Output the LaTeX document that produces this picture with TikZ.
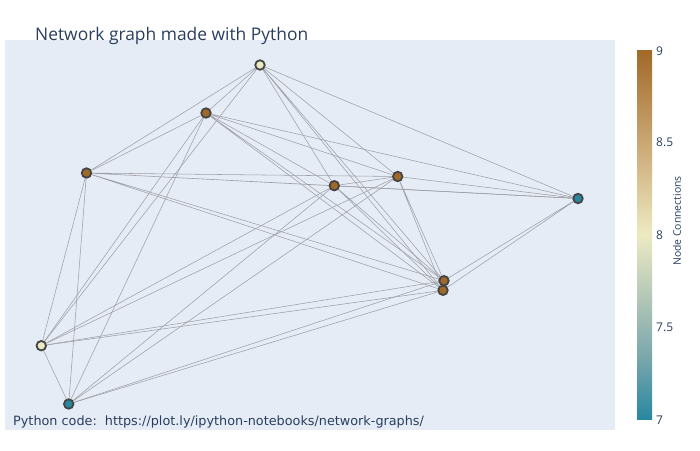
\documentclass[tikz,border=0pt]{standalone}
\usepackage{fontspec}
\setmainfont{Open Sans}
\newfontfamily\notefont{DejaVu Sans}
\usetikzlibrary{backgrounds}

\definecolor{plotbg}{HTML}{E5ECF6}
\definecolor{fontblue}{HTML}{2A3F5F}
\definecolor{edgegray}{RGB}{160,160,166}
\definecolor{rimgray}{HTML}{444444}
\definecolor{earthA}{RGB}{161,105,40}
\definecolor{earthB}{RGB}{189,146,90}
\definecolor{earthC}{RGB}{214,189,141}
\definecolor{earthD}{RGB}{237,234,194}
\definecolor{earthE}{RGB}{181,200,184}
\definecolor{earthF}{RGB}{121,167,172}
\definecolor{earthG}{RGB}{40,135,161}

\tikzset{
	netnode/.style={circle, draw=rimgray, line width=1.8pt, minimum size=9.5pt, inner sep=0pt},
	edge/.style={edgegray, line width=0.55pt},
	ticklabel/.style={anchor=west, inner sep=0pt, text=fontblue, font=\fontsize{12}{14}\selectfont}
}

\begin{document}
\begin{tikzpicture}[x=1pt,y=-1pt]
	\useasboundingbox (0,0) rectangle (700,450);

	% Nodes (coloured by number of connections)
	\node[netnode, fill=earthD] (a) at (260,65) {};
	\node[netnode, fill=earthA] (b) at (206,113) {};
	\node[netnode, fill=earthA] (c) at (86.5,173) {};
	\node[netnode, fill=earthA] (d) at (334.3,185.7) {};
	\node[netnode, fill=earthA] (e) at (397.7,176.5) {};
	\node[netnode, fill=earthG] (f) at (578,198.5) {};
	\node[netnode, fill=earthA] (g) at (444,280.7) {};
	\node[netnode, fill=earthA] (h) at (443,290.3) {};
	\node[netnode, fill=earthD] (i) at (41.3,345.7) {};
	\node[netnode, fill=earthG] (j) at (68.7,404) {};

	\begin{pgfonlayer}{background}
		% Paper and plot area
		\fill[white] (0,0) rectangle (700,450);
		\fill[plotbg] (5,40) rectangle (615,430);

		% Edges
		\draw[edge] (a) -- (b) (a) -- (c) (a) -- (d) (a) -- (e) (a) -- (f) (a) -- (g) (a) -- (h) (a) -- (i);
		\draw[edge] (b) -- (c) (b) -- (d) (b) -- (e) (b) -- (f) (b) -- (g) (b) -- (h) (b) -- (i) (b) -- (j);
		\draw[edge] (c) -- (d) (c) -- (e) (c) -- (f) (c) -- (g) (c) -- (h) (c) -- (i) (c) -- (j);
		\draw[edge] (d) -- (e) (d) -- (f) (d) -- (g) (d) -- (h) (d) -- (i) (d) -- (j);
		\draw[edge] (e) -- (f) (e) -- (g) (e) -- (h) (e) -- (i) (e) -- (j);
		\draw[edge] (f) -- (g) (f) -- (h);
		\draw[edge] (g) -- (h) (g) -- (i) (g) -- (j);
		\draw[edge] (h) -- (i) (h) -- (j);
		\draw[edge] (i) -- (j);
	\end{pgfonlayer}

	% Title and annotation
	\node[anchor=base west, inner sep=0pt, text=fontblue, font=\fontsize{17.4}{20}\selectfont] (title) at (35,40) {Network graph made with Python};
	\node[anchor=base west, inner sep=0pt, text=fontblue, font=\notefont\fontsize{12.8}{15}\selectfont] (note) at (13,425) {Python code:\ \ https://plot.ly/ipython-notebooks/network-graphs/};

	% Colour bar
	\shade[top color=earthA, bottom color=earthB] (637,50) rectangle (652,111.6);
	\shade[top color=earthB, bottom color=earthC] (637,111.5) rectangle (652,173.1);
	\shade[top color=earthC, bottom color=earthD] (637,173) rectangle (652,234.6);
	\shade[top color=earthD, bottom color=earthE] (637,234.5) rectangle (652,296.1);
	\shade[top color=earthE, bottom color=earthF] (637,296) rectangle (652,357.6);
	\shade[top color=earthF, bottom color=earthG] (637,357.5) rectangle (652,419);
	\node[ticklabel] (t9) at (656,51) {9};
	\node[ticklabel] (t85) at (656,142.7) {8.5};
	\node[ticklabel] (t8) at (656,235) {8};
	\node[ticklabel] (t75) at (656,327.5) {7.5};
	\node[ticklabel] (t7) at (656,420) {7};
	\node[rotate=90, inner sep=0pt, text=fontblue, font=\fontsize{10.4}{12}\selectfont] (cbtitle) at (677,221) {Node Connections};
\end{tikzpicture}
\end{document}
